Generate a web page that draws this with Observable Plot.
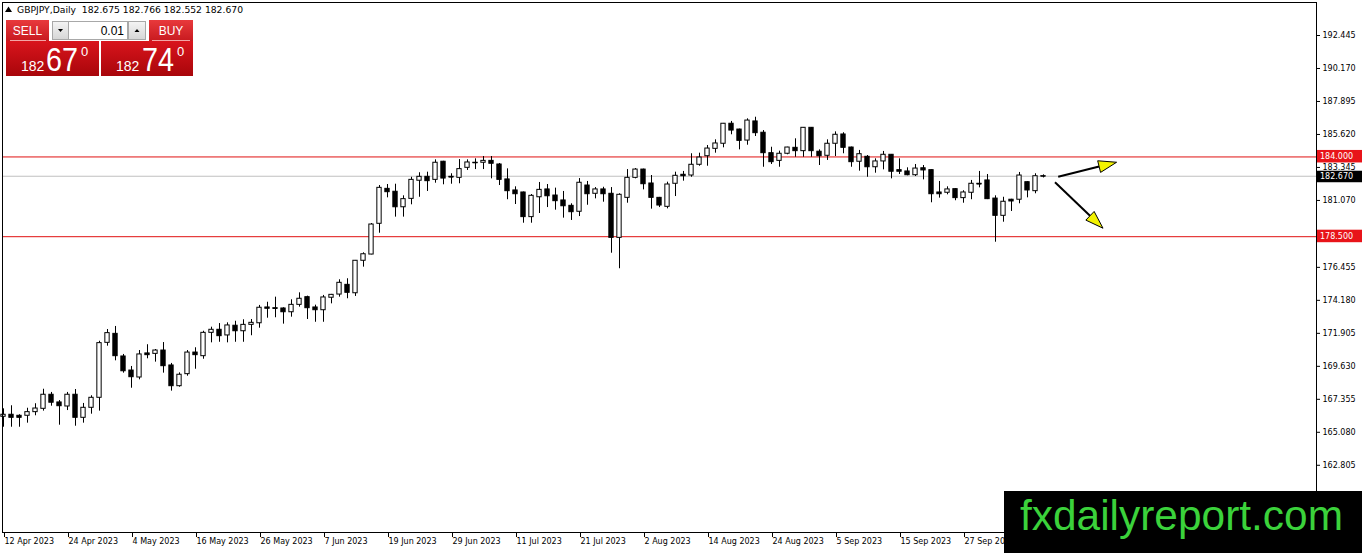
<!DOCTYPE html>
<html><head><meta charset="utf-8">
<script src="https://cdn.jsdelivr.net/npm/d3@7"></script>
<script src="https://cdn.jsdelivr.net/npm/@observablehq/plot@0.6"></script>
<style>
html,body{margin:0;padding:0;background:#fff;width:1362px;height:553px;overflow:hidden;}
#chart svg{display:block;}
</style></head>
<body><div id="chart"></div>
<script>
// ---- data ----
const symbolTitle = "GBPJPY,Daily";
const headerOHLC = ["182.675", "182.766", "182.552", "182.670"];
const xTickLabels = ["12 Apr 2023","24 Apr 2023","4 May 2023","16 May 2023","26 May 2023","7 Jun 2023",
  "19 Jun 2023","29 Jun 2023","11 Jul 2023","21 Jul 2023","2 Aug 2023","14 Aug 2023","24 Aug 2023",
  "5 Sep 2023","15 Sep 2023","27 Sep 2023","9 Oct 2023"];
const barsPerLabel = 8;
const yTicks = [162.805,165.080,167.355,169.630,171.905,174.180,176.455,181.070,183.345,185.620,187.895,190.170,192.445];
const opens = [166.08,166.22,166.15,166.15,166.40,166.63,167.60,167.07,166.79,167.60,166.01,166.70,167.39,171.18,171.80,170.24,169.27,168.79,170.45,170.42,
 170.65,169.62,168.19,169.02,170.51,170.26,171.87,172.08,171.69,172.36,171.98,172.42,172.53,173.62,173.57,173.55,173.29,173.80,174.33,173.62,
 173.43,174.29,174.51,175.18,174.60,176.84,177.27,179.39,181.80,181.60,180.53,181.11,182.36,182.63,182.42,183.67,182.63,182.56,183.25,183.58,
 183.60,183.73,183.48,182.45,181.69,181.55,179.85,181.22,181.76,181.34,181.00,180.63,180.22,182.03,181.46,181.76,181.46,178.42,181.18,182.56,
 183.13,182.17,181.18,180.56,182.15,182.77,182.72,183.46,184.05,184.56,184.91,186.29,185.89,185.13,186.45,185.67,184.26,183.73,184.22,184.63,
 184.40,186.01,184.36,184.08,184.91,185.55,184.65,183.67,184.01,183.29,183.69,184.15,183.09,183.00,182.74,183.22,183.09,181.55,181.53,181.78,
 181.16,181.53,182.15,182.38,181.13,179.94,181.05,181.05,182.26,181.64,182.675];
const highs = [166.63,166.84,166.22,166.67,166.98,167.98,167.76,167.20,167.76,167.96,167.00,167.53,171.29,172.10,172.31,170.38,169.55,170.65,171.05,170.72,
 171.20,169.76,169.11,170.65,170.84,171.98,172.26,172.51,172.56,172.67,172.77,172.79,173.76,173.98,174.33,173.60,174.15,174.63,174.40,173.78,
 174.45,174.52,175.53,175.60,176.86,177.39,179.41,182.03,182.10,182.12,181.32,182.60,182.91,182.95,183.80,183.70,182.84,183.82,183.80,183.87,
 184.03,184.03,183.55,183.18,181.94,181.58,181.41,182.24,182.10,181.85,181.62,180.77,182.51,182.31,181.89,181.91,181.89,181.46,183.13,183.20,
 183.16,182.72,181.21,182.26,182.95,183.00,184.22,184.26,184.79,185.18,186.31,186.45,185.92,186.63,186.74,185.82,184.67,184.40,184.67,185.25,
 186.03,186.03,184.49,185.18,185.73,185.67,184.68,184.45,184.10,183.87,184.38,184.17,183.87,183.25,183.48,183.41,183.11,182.31,181.94,181.82,
 181.67,182.38,183.00,182.79,181.32,181.22,181.08,182.93,182.29,182.84,182.766];
const lows = [165.36,165.36,165.36,165.64,166.15,166.47,166.81,165.50,166.51,165.43,165.64,166.26,166.47,170.95,169.94,169.09,168.05,168.63,170.08,169.85,
 169.09,167.85,168.12,168.88,169.36,170.05,171.18,171.22,171.18,171.22,171.22,171.67,172.19,172.88,172.91,172.47,172.95,173.64,172.79,172.60,
 172.60,173.87,174.33,174.22,174.38,176.40,177.25,178.74,181.18,179.85,179.85,180.70,181.22,181.62,182.19,182.08,182.12,182.15,183.07,183.13,
 183.13,182.49,182.03,181.05,180.72,179.43,179.43,180.10,180.51,180.33,179.78,179.62,179.89,180.67,181.11,180.88,177.36,176.29,180.81,182.49,
 181.73,180.40,180.51,180.42,181.27,182.33,182.60,183.36,183.36,184.26,184.63,185.53,184.49,184.81,185.41,183.29,183.48,183.29,184.15,183.98,
 183.98,183.98,183.41,183.76,184.03,184.22,183.29,183.02,182.60,182.88,183.11,182.49,182.79,182.70,182.65,182.42,180.84,181.16,181.39,180.98,
 180.81,181.05,181.87,181.06,178.12,179.50,180.24,180.77,181.18,181.46,182.552];
const closes = [166.22,166.01,166.01,166.40,166.65,167.60,167.05,166.81,167.60,166.01,166.70,167.39,171.16,171.85,170.26,169.22,168.81,170.38,170.33,170.65,
 169.57,168.19,168.98,170.51,170.33,171.87,172.08,171.64,172.38,171.98,172.42,172.56,173.60,173.53,173.55,173.29,173.80,174.22,173.57,173.43,
 174.31,174.49,175.32,174.63,176.84,177.29,179.34,181.87,181.57,180.53,181.09,182.42,182.63,182.33,183.60,182.51,182.61,183.16,183.62,183.60,
 183.73,183.53,182.42,181.64,181.43,179.85,181.32,181.73,181.29,180.95,180.60,180.19,182.22,181.43,181.76,181.43,178.42,181.39,182.56,183.13,
 182.12,181.18,180.65,182.10,182.70,182.67,183.46,183.96,184.58,184.93,186.29,185.82,185.11,186.51,185.64,184.26,183.64,184.22,184.65,184.40,
 186.01,184.40,184.05,184.91,185.53,184.63,183.64,184.19,183.29,183.69,184.15,182.98,182.98,182.74,183.20,183.07,181.43,181.43,181.76,181.16,
 181.55,182.15,182.13,181.09,179.94,180.91,180.93,182.72,181.69,182.67,182.670];
const levelLines = [184.000, 178.500];
const bidPrice = 182.670;
// arrows: [bar index, price] start -> tip
const arrowStartBar = [131.9, 131.5];
const arrowStartPrice = [182.60, 182.22];
const arrowTipBar = [139.2, 137.5];
const arrowTipPrice = [183.60, 179.05];
const sellQuote = ["182", "67", "0"];
const buyQuote = ["182", "74", "0"];
const lotSize = "0.01";
const watermark = "fxdailyreport.com";

// ---- build ----
const candles = opens.map((o, i) => ({i, o, h: highs[i], l: lows[i], c: closes[i]}));
const xTicks = xTickLabels.map((_, k) => k * barsPerLabel);
const F = "DejaVu Sans";

const plot = Plot.plot({
  width: 1362, height: 553,
  marginLeft: 2, marginRight: 46, marginTop: 2, marginBottom: 21,
  style: {fontFamily: F, fontSize: "8px", color: "#000", background: "#fff", overflow: "visible"},
  x: {type: "linear", domain: [-0.125, 164.125]},
  y: {domain: [158.1, 194.652]},
  marks: [
    Plot.ruleY(levelLines, {stroke: "#e01010", strokeWidth: 1}),
    Plot.ruleY([bidPrice], {stroke: "#c0c0c0", strokeWidth: 1}),
    Plot.ruleX(candles, {x: "i", y1: "l", y2: "h", stroke: "#000", strokeWidth: 1}),
    Plot.rect(candles, {x1: d => d.i - 0.27, x2: d => d.i + 0.27, y1: "o", y2: "c",
      fill: d => (d.c >= d.o ? "#ffffff" : "#000000"), stroke: "#000", strokeWidth: 1}),
    Plot.ruleY(candles.filter(d => Math.abs(d.c - d.o) < 0.05), {x1: d => d.i - 0.3, x2: d => d.i + 0.3, y: "c", stroke: "#000"}),
    Plot.axisY({anchor: "right", ticks: yTicks, tickFormat: d => d.toFixed(3), tickSize: 3, tickPadding: 3, dy: 1, fill: "#000"}),
    Plot.axisX({ticks: xTicks, tickFormat: d => xTickLabels[Math.round(d / barsPerLabel)], textAnchor: "start",
      tickSize: 5, tickPadding: 1, dx: 1, fill: "#000"}),
    Plot.frame({stroke: "#000"})
  ]
});
document.getElementById("chart").appendChild(plot);

const xs = plot.scale("x"), ys = plot.scale("y");
const svg = d3.select(plot);
const defs = svg.append("defs");
function grad(id, c1, c2) {
  const g = defs.append("linearGradient").attr("id", id).attr("x1", 0).attr("y1", 0).attr("x2", 0).attr("y2", 1);
  g.append("stop").attr("offset", "0%").attr("stop-color", c1);
  g.append("stop").attr("offset", "100%").attr("stop-color", c2);
}
grad("btnRed", "#e8393c", "#c81a1f");
grad("bigRed", "#d9141c", "#a8060b");
grad("grayBtn", "#f4f4f4", "#d6d6d6");

// arrows
const ag = svg.append("g");
arrowStartBar.forEach((b, k) => {
  const x1 = xs.apply(b), y1 = ys.apply(arrowStartPrice[k]);
  const x2 = xs.apply(arrowTipBar[k]), y2 = ys.apply(arrowTipPrice[k]);
  const dx = x2 - x1, dy = y2 - y1, len = Math.hypot(dx, dy);
  const ux = dx / len, uy = dy / len, L = 18, W = 6;
  const bx = x2 - ux * L, by = y2 - uy * L;
  ag.append("line").attr("x1", x1).attr("y1", y1).attr("x2", bx).attr("y2", by)
    .attr("stroke", "#000").attr("stroke-width", 2);
  ag.append("polygon").attr("points", [[x2, y2], [bx - uy * W, by + ux * W], [bx + uy * W, by - ux * W]].map(p => p.join(",")).join(" "))
    .attr("fill", "#f2f200").attr("stroke", "#000").attr("stroke-width", 1);
});

// right-axis price boxes
const pb = svg.append("g").attr("font-family", F).attr("font-size", 8).attr("text-anchor", "start");
function priceBox(v, bg, up, down) {
  const y = ys.apply(v);
  pb.append("rect").attr("x", 1317).attr("y", y - up).attr("width", 45).attr("height", up + down).attr("fill", bg);
  pb.append("text").attr("x", 1320).attr("y", y + 3).attr("fill", "#fff").text(v.toFixed(3));
}
levelLines.forEach(v => priceBox(v, "#e8141a", 6.5, 6));
priceBox(bidPrice, "#000", 5, 6.5);

// header
const hg = svg.append("g").attr("font-family", F).attr("text-anchor", "start");
hg.append("path").attr("d", "M5,12 L8.5,6.5 L12,12 Z").attr("fill", "#000");
hg.append("text").attr("x", 17).attr("y", 13).attr("font-size", 9).attr("fill", "#000")
  .attr("textLength", 226).attr("lengthAdjust", "spacingAndGlyphs")
  .text(symbolTitle + "  " + headerOHLC.join(" "));

// trade panel
const tp = svg.append("g").attr("font-family", "Liberation Sans").attr("text-anchor", "start");
tp.append("rect").attr("x", 6).attr("y", 20).attr("width", 43).attr("height", 21).attr("fill", "url(#btnRed)");
tp.append("rect").attr("x", 149).attr("y", 20).attr("width", 44).attr("height", 21).attr("fill", "url(#btnRed)");
tp.append("line").attr("x1", 10).attr("x2", 46).attr("y1", 40.5).attr("y2", 40.5).attr("stroke", "#f3a5a5");
tp.append("line").attr("x1", 152).attr("x2", 190).attr("y1", 40.5).attr("y2", 40.5).attr("stroke", "#f3a5a5");
tp.append("text").attr("x", 27.5).attr("y", 35).attr("text-anchor", "middle").attr("font-size", 12).attr("fill", "#fff").text("SELL");
tp.append("text").attr("x", 171).attr("y", 35).attr("text-anchor", "middle").attr("font-size", 12).attr("fill", "#fff").text("BUY");
tp.append("rect").attr("x", 52.5).attr("y", 21.5).attr("width", 16).attr("height", 18).attr("fill", "url(#grayBtn)").attr("stroke", "#a8a8a8");
tp.append("rect").attr("x", 68.5).attr("y", 21.5).attr("width", 59).attr("height", 18).attr("fill", "#fff").attr("stroke", "#a8a8a8");
tp.append("rect").attr("x", 128.5).attr("y", 21.5).attr("width", 17).attr("height", 18).attr("fill", "url(#grayBtn)").attr("stroke", "#a8a8a8");
tp.append("path").attr("d", "M58,29 L63,29 L60.5,32 Z").attr("fill", "#000");
tp.append("path").attr("d", "M134.5,32 L139.5,32 L137,29 Z").attr("fill", "#000");
tp.append("text").attr("x", 124).attr("y", 35).attr("text-anchor", "end").attr("font-size", 12).attr("fill", "#000").text(lotSize);
function bigQuote(x0, w, q, xs3) {
  tp.append("rect").attr("x", x0).attr("y", 41).attr("width", w).attr("height", 35).attr("fill", "url(#bigRed)");
  tp.append("text").attr("x", xs3[0]).attr("y", 71).attr("font-size", 14).attr("fill", "#fff").text(q[0]);
  tp.append("text").attr("x", xs3[1]).attr("y", 71).attr("font-size", 33).attr("fill", "#fff").attr("textLength", 32).attr("lengthAdjust", "spacingAndGlyphs").text(q[1]);
  tp.append("text").attr("x", xs3[2]).attr("y", 56).attr("font-size", 13).attr("fill", "#fff").text(q[2]);
}
bigQuote(6, 93, sellQuote, [21, 46, 81]);
bigQuote(101, 92, buyQuote, [116, 142, 177]);

// watermark
const wm = svg.append("g").attr("text-anchor", "start");
wm.append("rect").attr("x", 1004).attr("y", 491).attr("width", 358).attr("height", 62).attr("fill", "#000");
wm.append("text").attr("x", 1020).attr("y", 530).attr("font-family", "Liberation Sans").attr("font-size", 42)
  .attr("fill", "#3bd23b").attr("textLength", 323).attr("lengthAdjust", "spacingAndGlyphs").text(watermark);
</script>
</body></html>
